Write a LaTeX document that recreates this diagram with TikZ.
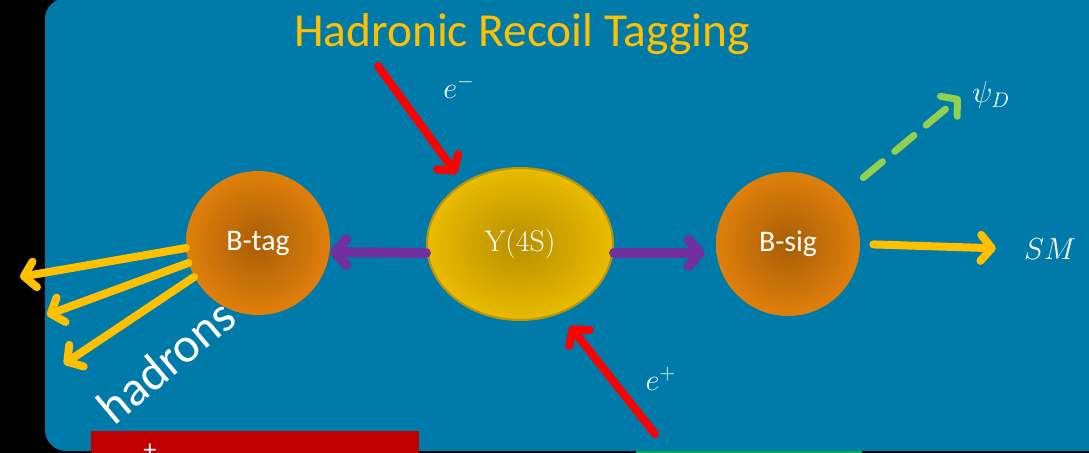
\documentclass[tikz,border=0pt]{standalone}
\usepackage{fontspec}
\setmainfont{Latin Modern Roman}
\newfontfamily\calib{Carlito}
\usetikzlibrary{arrows.meta,shapes.geometric}
\definecolor{slide}{HTML}{007AA8}
\definecolor{darkred}{HTML}{C00000}
\definecolor{okgreen}{HTML}{00B050}
\definecolor{gold}{HTML}{FFC000}
\definecolor{lime}{HTML}{92D050}
\definecolor{violet}{HTML}{7030A0}
\definecolor{rim}{HTML}{B8940A}
\pgfdeclareradialshading{orangeball}{\pgfpoint{0bp}{0bp}}{rgb(0bp)=(0.66,0.37,0.02); rgb(29bp)=(0.91,0.52,0.05); rgb(50bp)=(0.91,0.52,0.05)}
\pgfdeclareradialshading{yellowball}{\pgfpoint{0bp}{0bp}}{rgb(0bp)=(0.72,0.56,0.0); rgb(29bp)=(0.95,0.76,0.0); rgb(50bp)=(0.95,0.76,0.0)}
\tikzset{
  meson/.style={circle, minimum size=2.88cm, inner sep=0pt, shading=orangeball, text=white, font=\calib\fontsize{17}{20}\selectfont},
  chev/.style={-{Straight Barb[length=0.22cm, width=0.52cm, line cap=round, line join=round]}, line cap=round},
  label/.style={text=white, font=\fontsize{17}{20}\selectfont}
}
\begin{document}
\begin{tikzpicture}[x=0.02cm, y=-0.02cm]
    \useasboundingbox (0,0) rectangle (1089,453);
    % Backdrop
    \fill[black] (0,0) rectangle (1089,453);
    \fill[slide, rounded corners=12] (45,-2) rectangle (1110,451);
    \fill[darkred] (91,431) rectangle (419,460);
    \node[text=white, font=\calib\fontsize{15}{18}\selectfont] (plus) at (150,451) {+};
    \fill[okgreen] (636,451) rectangle (862,456);
    
    % Title
    \node[text=gold, font=\calib\fontsize{27}{32}\selectfont, anchor=base] (title) at (522,47) {Hadronic Recoil Tagging};
    
    % Particles
    \node[meson] (btag) at (258,243) {B-tag};
    \node[ellipse, minimum width=3.72cm, minimum height=3.04cm, inner sep=0pt, shading=yellowball, draw=rim, line width=1.2pt, text=white, font=\fontsize{17}{20}\selectfont] (ups) at (520,244) {Y(4S)};
    \node[meson] (bsig) at (788,244) {B-sig};
    
    % Beams
    \coordinate (emin) at (378,66);
    \coordinate (eplus) at (655,434);
    \draw[chev, red, line width=0.16cm, shorten >=0.22cm] (emin) -- (ups.133);
    \draw[chev, red, line width=0.16cm, shorten >=0.32cm] (eplus) -- (ups.-60);
    \node[label] (emlab) at (459,87) {$e^-$};
    \node[label] (eplab) at (661,379) {$e^+$};
    
    % B pair
    \draw[chev, violet, line width=0.2cm] ([yshift=-0.18cm]ups.west) -- ([yshift=-0.18cm]btag.east);
    \draw[chev, violet, line width=0.2cm] ([yshift=-0.18cm]ups.east) -- ([yshift=-0.18cm,xshift=-0.22cm]bsig.west);
    
    % Decays
    \coordinate (h1) at (20,277);
    \coordinate (h2) at (47,315);
    \coordinate (h3) at (64,364);
    \foreach \a/\t in {184/h1, 196/h2, 208/h3}
      \draw[chev, gold, line width=0.16cm] (btag.\a) -- (\t);
    \node[text=white, rotate=40, font=\calib\fontsize{28}{32}\selectfont] (had) at (166,361) {hadrons};
    \node[label] (sm) at (1050,249) {$SM$};
    \node[label] (psi) at (991,95) {$\psi_D$};
    \draw[chev, gold, line width=0.16cm, shorten <=0.26cm, shorten >=0.44cm] (bsig.east) -- (sm.west);
    \draw[chev, lime, line width=0.14cm, dash pattern=on 0.5cm off 0.32cm, shorten <=0.56cm] (bsig.42) -- (960,97);
  \end{tikzpicture}
\end{document}
